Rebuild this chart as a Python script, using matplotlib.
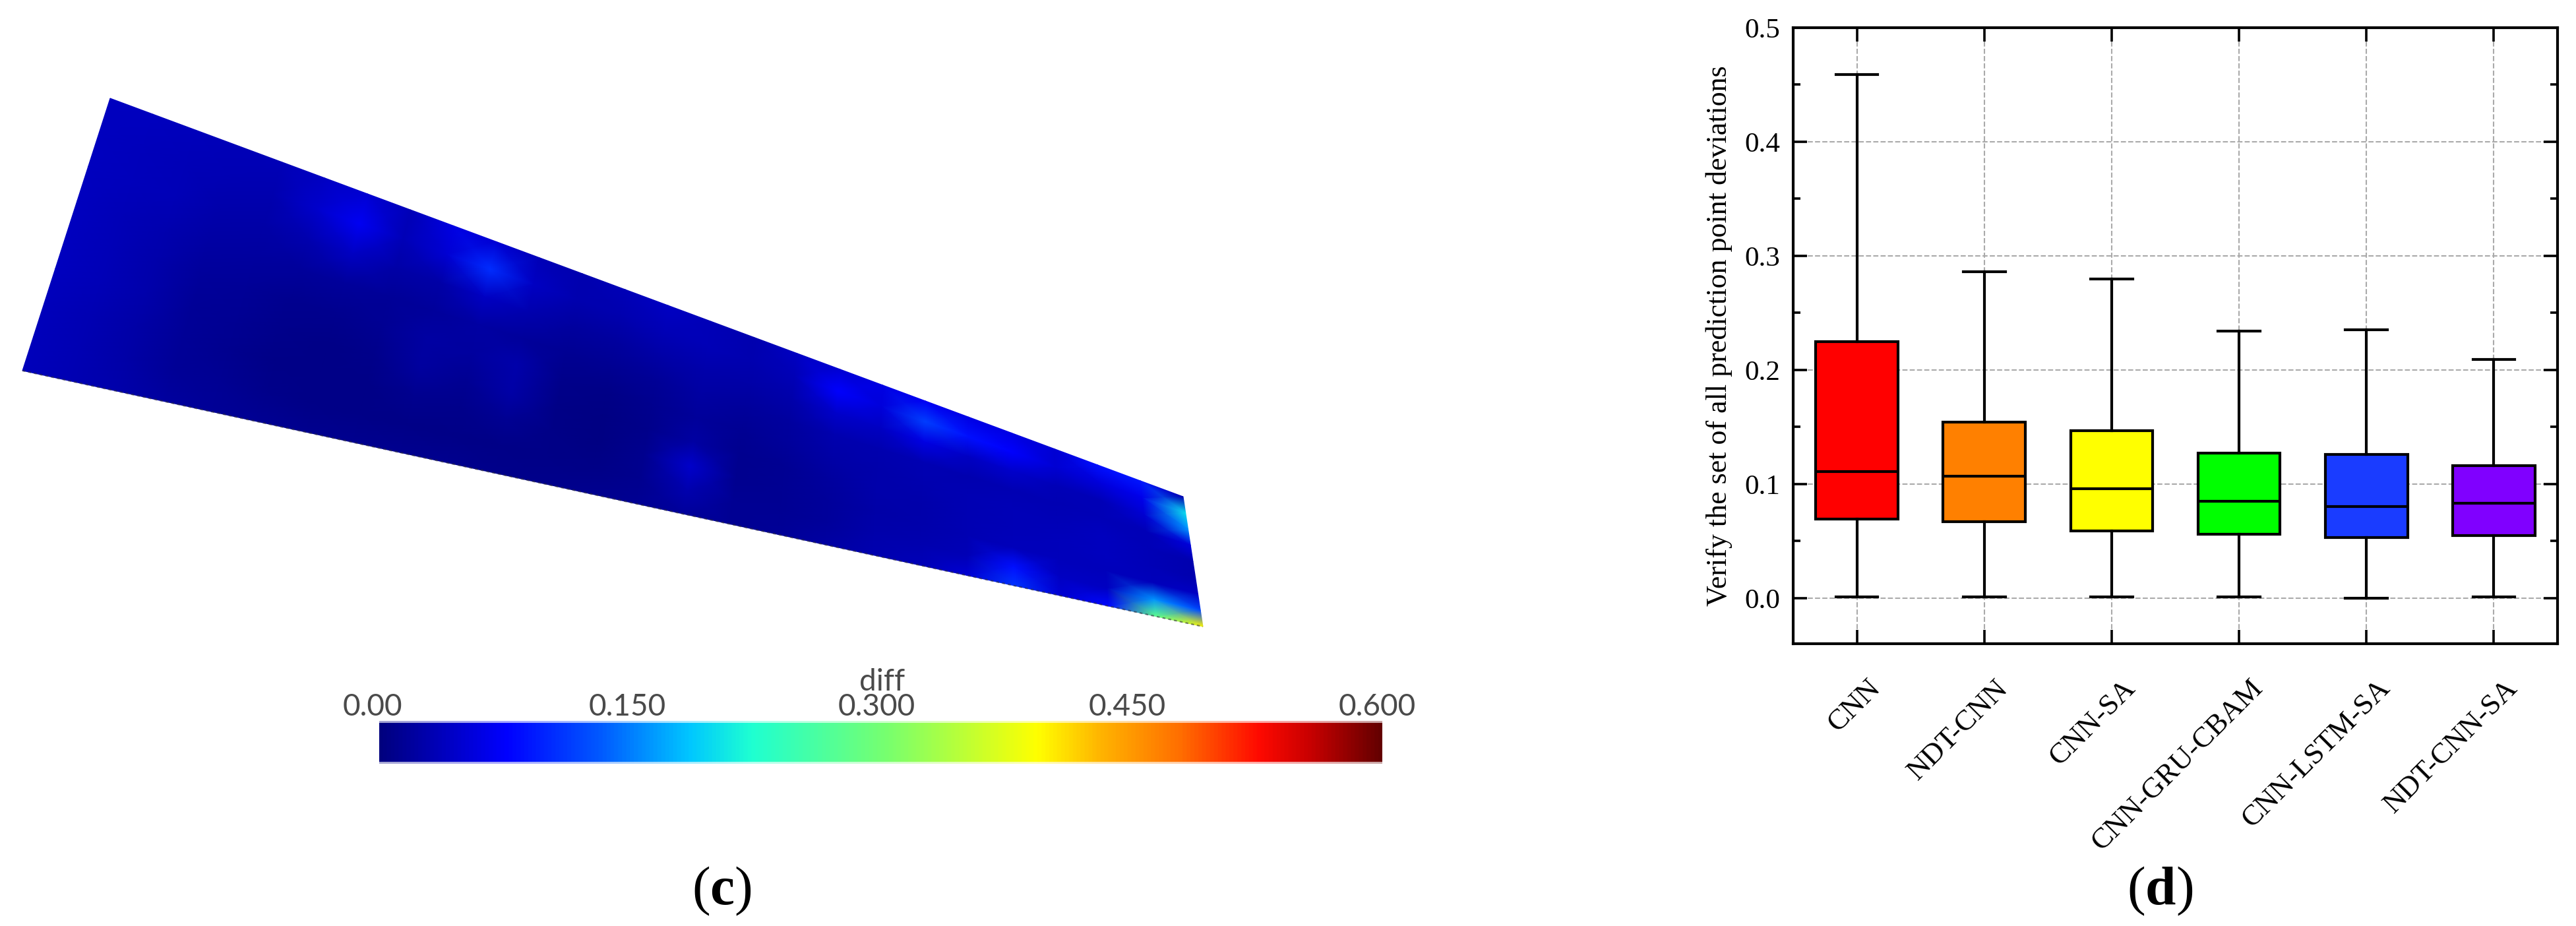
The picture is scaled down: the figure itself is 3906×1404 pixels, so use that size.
import matplotlib
matplotlib.use("Agg")
import matplotlib.pyplot as plt
from matplotlib.colors import LinearSegmentedColormap
from matplotlib.transforms import ScaledTranslation
import numpy as np

plt.rcParams['font.family'] = ['Liberation Serif', 'DejaVu Sans']
plt.rcParams['mathtext.fontset'] = 'custom'
plt.rcParams['mathtext.rm'] = 'Liberation Serif'
plt.rcParams['mathtext.bf'] = 'Liberation Serif:bold'

# box plot data
models = ['CNN', 'NDT-CNN', 'CNN-SA', 'CNN-GRU-CBAM', 'CNN-LSTM-SA', 'NDT-CNN-SA']
whisker_low = [0.001, 0.001, 0.001, 0.001, 0.000, 0.001]
q1 = [0.069, 0.067, 0.059, 0.056, 0.053, 0.055]
medians = [0.111, 0.107, 0.096, 0.085, 0.080, 0.083]
q3 = [0.225, 0.154, 0.147, 0.127, 0.126, 0.116]
whisker_high = [0.459, 0.286, 0.280, 0.234, 0.235, 0.209]
box_colors = ['#ff0000', '#ff8000', '#ffff00', '#00ff00', '#1a3cff', '#8000ff']

# colour bar of panel (c)
cbar_ticks = ['0.00', '0.150', '0.300', '0.450', '0.600']
cbar_tick_x = [565, 951, 1329, 1709, 2088]

# diff field of panel (c), rows go from top edge to bottom edge, columns left to right
diff_field = [
    [.038, .038, .036, .035, .034, .040, .050, .035, .060, .050, .035, .030, .035, .040, .035, .030, .040, .050, .060, .070, .060, .060, .050, .085, .090, .030],
    [.038, .037, .035, .032, .030, .045, .070, .035, .050, .105, .040, .030, .030, .035, .035, .030, .035, .075, .055, .115, .085, .075, .050, .055, .065, .200],
    [.038, .036, .033, .028, .025, .030, .040, .025, .025, .040, .030, .020, .020, .025, .028, .024, .028, .045, .040, .060, .040, .045, .035, .035, .050, .160],
    [.038, .035, .030, .022, .020, .018, .018, .016, .018, .022, .018, .012, .012, .015, .022, .018, .020, .030, .030, .032, .030, .032, .032, .035, .035, .055],
    [.038, .034, .028, .018, .015, .010, .010, .014, .022, .020, .028, .008, .006, .010, .018, .014, .018, .024, .028, .030, .032, .034, .035, .038, .034, .030],
    [.038, .034, .026, .016, .012, .008, .006, .008, .020, .012, .025, .006, .004, .008, .022, .010, .014, .020, .026, .028, .032, .034, .036, .038, .034, .030],
    [.036, .032, .024, .015, .010, .006, .005, .005, .010, .008, .012, .005, .004, .010, .045, .010, .012, .018, .024, .028, .032, .036, .036, .036, .036, .040],
    [.036, .032, .024, .016, .012, .008, .006, .006, .006, .006, .006, .005, .005, .010, .030, .012, .012, .018, .026, .030, .034, .085, .040, .040, .160, .120],
    [.036, .032, .026, .020, .016, .012, .010, .010, .010, .010, .008, .008, .010, .014, .018, .014, .016, .022, .030, .034, .050, .110, .050, .080, .280, .400],
]

# stops
jet_like = LinearSegmentedColormap.from_list('diff', [
    (0.000, '#00007f'), (0.126, '#0000ff'), (0.220, '#005aff'), (0.310, '#00c8ff'),
    (0.370, '#1effd2'), (0.507, '#78ff6e'), (0.657, '#ffff00'), (0.720, '#ffb400'),
    (0.800, '#ff6e00'), (0.878, '#ff0a00'), (0.930, '#c80000'), (1.000, '#640000'),
])

fig = plt.figure(figsize=(39.06, 14.04), dpi=100, facecolor='white')

# pixel canvas for the left panel and the captions
canvas = fig.add_axes([0, 0, 1, 1])
canvas.axis('off')

# the wedge: corners of the quad in canvas pixels
field = np.array(diff_field)
u = np.linspace(0, 1, field.shape[1])
v = np.linspace(0, 1, field.shape[0])
uu, vv = np.meshgrid(u, v)
top_l, bot_l, bot_r, top_r = (167, 149), (34, 562), (1824, 950), (1794, 753)
xx = (1-uu)*(1-vv)*top_l[0] + (1-uu)*vv*bot_l[0] + uu*vv*bot_r[0] + uu*(1-vv)*top_r[0]
yy = (1-uu)*(1-vv)*top_l[1] + (1-uu)*vv*bot_l[1] + uu*vv*bot_r[1] + uu*(1-vv)*top_r[1]
canvas.pcolormesh(xx, yy, field, cmap=jet_like, vmin=0, vmax=0.6, shading='gouraud')
canvas.plot([bot_l[0], bot_r[0]], [bot_l[1], bot_r[1]], color='#333344', lw=1.6, ls=(0, (2, 2)), alpha=0.6)

# colour bar, with the soft pale rim it has in the reference
gradient = np.linspace(0, 1, 512).reshape(1, -1)
canvas.imshow(gradient, cmap=jet_like, extent=(575, 2096, 1158, 1093), aspect='auto', alpha=0.35)
canvas.imshow(gradient, cmap=jet_like, extent=(575, 2096, 1155, 1096), aspect='auto')
canvas.set_xlim(0, 3906)
canvas.set_ylim(1404, 0)
for lab, tx in zip(cbar_ticks, cbar_tick_x):
    canvas.text(tx, 1085, lab, family='Lato', fontsize=33, color='#4a4a4a', ha='center', va='baseline')
canvas.text(1338, 1047, 'diff', family='Lato', fontsize=33, color='#4a4a4a', ha='center', va='baseline')

canvas.text(1094, 1371, r'($\mathbf{c}$)', fontsize=60, ha='center', va='baseline')
canvas.text(3275, 1371, r'($\mathbf{d}$)', fontsize=60, ha='center', va='baseline')
canvas.text(2607, 509, 'Verify the set of all prediction point deviations', fontsize=31.7,
            rotation=90, ha='center', va='center')

# box plot
W, H = 3906, 1404
ax = fig.add_axes([2719/W, 1-976/H, (3878-2719)/W, (976-42)/H])
stats = []
for i in range(len(models)):
    stats.append(dict(label=models[i], whislo=whisker_low[i], q1=q1[i], med=medians[i], q3=q3[i], whishi=whisker_high[i], fliers=[]))
lw = 3.0
parts = ax.bxp(stats, positions=np.arange(1, 7), widths=0.645, patch_artist=True, showfliers=False,
               boxprops=dict(linewidth=lw, edgecolor='black'),
               medianprops=dict(linewidth=lw, color='black'),
               whiskerprops=dict(linewidth=lw, color='black'),
               capprops=dict(linewidth=lw, color='black'), capwidths=0.33, zorder=3)
for patch, c in zip(parts['boxes'], box_colors):
    patch.set_facecolor(c)

ax.set_xlim(0.5, 6.5)
ax.set_ylim(-0.04, 0.5)
ax.set_yticks(np.arange(0, 0.51, 0.1))
ax.set_yticks(np.arange(0.05, 0.5, 0.1), minor=True)
ax.set_yticklabels(['0.0', '0.1', '0.2', '0.3', '0.4', '0.5'], fontsize=31)
ax.set_xticks(np.arange(1, 7))
ax.set_xticklabels(models, fontsize=32, rotation=45, ha='right', rotation_mode='anchor')
ax.tick_params(axis='both', which='major', direction='in', length=15, width=2.6, top=True, right=True)
ax.tick_params(axis='y', which='minor', direction='in', length=8, width=2.6, right=True)
ax.tick_params(axis='x', pad=34)
ax.tick_params(axis='y', pad=14)
shift = ScaledTranslation(15/100, 0, fig.dpi_scale_trans)
for t in ax.get_xticklabels():
    t.set_transform(t.get_transform() + shift)
ax.grid(True, which='major', color='#aaaaaa', ls='--', lw=1.5)
ax.set_axisbelow(True)
for s in ax.spines.values():
    s.set_linewidth(3.0)

fig.savefig('out.png', dpi=100)
